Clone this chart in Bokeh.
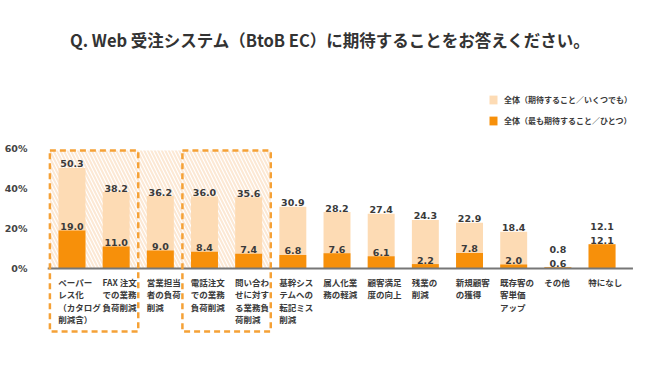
from bokeh.plotting import figure
from bokeh.models import (Range1d, FixedTicker, ColumnDataSource, Legend, LegendItem, Label)
from bokeh.core.properties import value
from bokeh.embed import file_html
from bokeh.resources import INLINE

# ---- data ----
categories = ["ペーパー\nレス化\n（カタログ\n削減含）", "FAX 注文\nでの業務\n負荷削減", "営業担当\n者の負荷\n削減",
              "電話注文\nでの業務\n負荷削減", "問い合わ\nせに対す\nる業務負\n荷削減", "基幹シス\nテムへの\n転記ミス\n削減",
              "属人化業\n務の軽減", "顧客満足\n度の向上", "残業の\n削減", "新規顧客\nの獲得",
              "既存客の\n客単価\nアップ", "その他", "特になし"]
any_expect = [50.3, 38.2, 36.2, 36.0, 35.6, 30.9, 28.2, 27.4, 24.3, 22.9, 18.4, 0.8, 12.1]
most_expect = [19.0, 11.0, 9.0, 8.4, 7.4, 6.8, 7.6, 6.1, 2.2, 7.8, 2.0, 0.6, 12.1]
y_ticks = [0, 20, 40, 60]
series_names = ["全体（期待すること／いくつでも）", "全体（最も期待すること／ひとつ）"]
title_text = "Q. Web 受注システム（BtoB EC）に期待することをお答えください。"
highlight_groups = [(0, 1), (3, 4)]
hatched_group = (0, 4)

LIGHT = "#FDDBB4"
DARK = "#F7900A"
BOX = "#F5A136"
TXT = "#3a3a3a"
CJK = "Noto Sans CJK JP"

n = len(categories)
xs = list(range(n))

p = figure(width=634, height=349, output_backend="svg", toolbar_location=None,
           x_range=Range1d(-0.826, 12.735), y_range=Range1d(-40.5, 134),
           min_border_left=35, min_border_right=0, min_border_top=0, min_border_bottom=0)
p.outline_line_color = None
p.background_fill_color = "white"
p.border_fill_color = "white"
p.xgrid.visible = False
p.ygrid.visible = False
p.xaxis.visible = False

ax = p.yaxis[0]
ax.ticker = FixedTicker(ticks=y_ticks)
ax.major_label_overrides = {t: f"{t}%" for t in y_ticks}
ax.axis_line_color = None
ax.major_tick_line_color = None
ax.minor_tick_line_color = None
ax.major_label_text_font = "DejaVu Sans"
ax.major_label_text_font_style = "bold"
ax.major_label_text_font_size = "9.5px"
ax.major_label_text_color = "#444444"
ax.major_label_standoff = 2

# hatched background
h0, h1 = hatched_group
p.quad(left=[h0 - 0.5], right=[h1 + 0.5], bottom=[0], top=[59], fill_color="white",
       line_color=None, hatch_pattern="left_diagonal_line", hatch_color="#FCE8D4",
       hatch_weight=2, hatch_scale=7)

src = ColumnDataSource(dict(x=xs, any=any_expect, most=most_expect))
r_light = p.vbar(x="x", top="any", width=0.61, source=src, fill_color=LIGHT, line_color=None)
r_dark = p.vbar(x="x", top="most", width=0.61, source=src, fill_color=DARK, line_color=None)

# baseline
p.segment(x0=[-0.55], x1=[12.7], y0=[0], y1=[0], line_color="#777777", line_width=2)

# value labels
light_y = [max(a, m + 7) + 2 for a, m in zip(any_expect, most_expect)]
dark_y = [m + 2 for m in most_expect]
p.text(x=xs, y=light_y, text=[f"{v:.1f}" for v in any_expect], text_align="center",
       text_baseline="alphabetic", text_font=value("DejaVu Sans"), text_font_style="bold",
       text_font_size="9.5px", text_color=TXT)
p.text(x=xs, y=dark_y, text=[f"{v:.1f}" for v in most_expect], text_align="center",
       text_baseline="alphabetic", text_font=value("DejaVu Sans"), text_font_style="bold",
       text_font_size="9.5px", text_color=TXT)

# category labels
p.text(x=[i - 0.31 for i in xs], y=[-3.5] * n, text=categories, text_align="left",
       text_baseline="top", text_font=value(CJK), text_font_style="bold",
       text_font_size="8.5px", text_color=TXT, text_line_height=1.05)

# dashed highlight boxes
for a, b in highlight_groups:
    p.quad(left=[a - 0.5], right=[b + 0.5], bottom=[-31.5], top=[59], fill_color=None,
           line_color=BOX, line_width=2.5, line_dash="6 4")

# title
p.add_layout(Label(x=(n - 1) / 2 - 0.15, y=114.5, text=title_text, text_align="center",
                   text_baseline="middle", text_font=CJK, text_font_style="bold",
                   text_font_size="16.5px", text_color="#333333"))

legend = Legend(items=[LegendItem(label=series_names[0], renderers=[r_light]),
                       LegendItem(label=series_names[1], renderers=[r_dark])],
                location=(453, 223), orientation="vertical", background_fill_alpha=0,
                border_line_color=None, padding=0, spacing=10, glyph_width=10, glyph_height=11,
                label_standoff=6, label_text_font=CJK, label_text_font_style="bold",
                label_text_font_size="8px", label_text_color=TXT, label_height=11)
p.add_layout(legend)

open("out.html", "w").write(file_html(p, INLINE))
